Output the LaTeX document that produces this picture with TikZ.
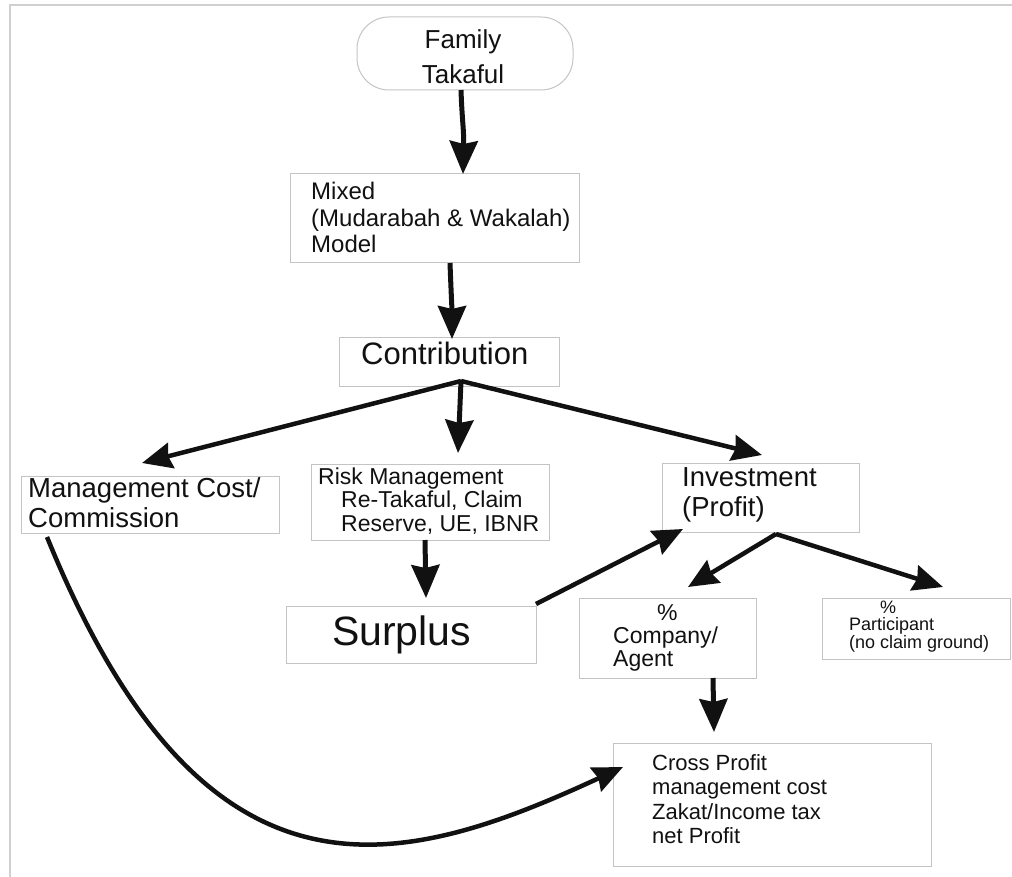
\documentclass[tikz,border=0pt]{standalone}
\usepackage{fontspec}
\setmainfont{Liberation Sans}
\usetikzlibrary{arrows.meta}

\definecolor{boxline}{HTML}{C4C4C4}
\definecolor{frameline}{HTML}{D0D0D0}
\definecolor{ink}{HTML}{111111}
\newcommand\setfs[2]{\fontsize{#1}{#2}\selectfont}

\tikzset{
  box/.style={draw=boxline, line width=1pt, rectangle, inner sep=0pt, outer sep=0pt},
  lbl/.style={inner sep=0pt, anchor=north west, align=left, text=ink},
  vflow/.style={draw=ink, line width=5pt, -{Stealth[length=33pt,width=28pt,inset=3pt]}},
  dflow/.style={draw=ink, line width=4.5pt, -{Stealth[length=30pt,width=26pt,inset=3pt]}},
}

\begin{document}
\begin{tikzpicture}[x=1pt,y=-1pt]
\useasboundingbox (0,0) rectangle (1012,877);
% page frame (top and left edges)
\draw[frameline, line width=1.2pt] (10,877) -- (10,5) -- (1012,5);

% boxes
\node[box, rounded corners=32pt, minimum width=216pt, minimum height=73pt] (fam) at (465,53.5) {};
\node[box, minimum width=289pt, minimum height=89pt]  (mixed)   at (434.5,218.5) {};
\node[box, minimum width=220pt, minimum height=49pt]  (contrib) at (449,361.5) {};
\node[box, minimum width=258pt, minimum height=57pt]  (mgmt)    at (150,504.5) {};
\node[box, minimum width=238pt, minimum height=76pt]  (risk)    at (430,502) {};
\node[box, minimum width=197pt, minimum height=69pt]  (invest)  at (760.5,497.5) {};
\node[box, minimum width=250pt, minimum height=57pt]  (surplus) at (411,634.5) {};
\node[box, minimum width=177pt, minimum height=80pt]  (company) at (667.5,638) {};
\node[box, minimum width=188pt, minimum height=61pt]  (partic)  at (916,628.5) {};
\node[box, minimum width=318pt, minimum height=123pt] (cross)   at (772,804.5) {};

% labels
\node[lbl, anchor=north, align=center, font=\setfs{26}{35}] (famtxt) at (463,29) {Family\\Takaful};
\node[lbl, font=\setfs{24}{26.5}] (mixtxt) at (311,182) {Mixed\\(Mudarabah \& Wakalah)\\Model};
\node[lbl, anchor=base west, font=\setfs{31}{36}] (contribtxt) at (361,364) {Contribution};
\node[lbl, font=\setfs{27.5}{30}] (mgmttxt) at (28,477.5) {Management Cost/\\Commission};
\node[lbl, font=\setfs{23}{23.5}] (risktxt) at (318,467.5)
  {Risk Management\\\hspace*{23pt}Re-Takaful, Claim\\\hspace*{23pt}Reserve, UE, IBNR};
\node[lbl, font=\setfs{27.5}{30}] (investtxt) at (682,467) {Investment\\(Profit)};
\node[lbl, anchor=base west, font=\setfs{41}{46}] (surplustxt) at (332,645) {Surplus};
\node[lbl, font=\setfs{23}{23}] (companytxt) at (613,604.5) {\hspace*{44pt}\%\\Company/\\Agent};
\node[lbl, font=\setfs{18}{17.5}] (partictxt) at (849,600.5) {\hspace*{31pt}\%\\Participant\\(no claim ground)};
\node[lbl, font=\setfs{22}{24.5}] (crosstxt) at (652,754) {Cross Profit\\management cost\\Zakat/Income tax\\net Profit};

% connector end points
\coordinate (fan)   at ([xshift=12pt,yshift=5pt]contrib.south);
\coordinate (split) at ([xshift=15.5pt,yshift=-2pt]invest.south);

% flows
\draw[vflow] ([xshift=-4pt]fam.south) .. controls (462,120) and (464,130) .. ([xshift=28.5pt]mixed.north);
\draw[vflow] ([xshift=15.5pt]mixed.south) .. controls (451,290) and (452,310) .. ([xshift=3pt,yshift=-2pt]contrib.north);
\draw[dflow] (fan) -- ([xshift=-8pt,yshift=13pt]mgmt.north);
\draw[vflow] (fan) -- ([xshift=28pt,yshift=11pt]risk.north);
\draw[dflow] (fan) -- ([xshift=1.5pt,yshift=8pt]invest.north);
\draw[vflow] ([xshift=-5pt]risk.south) -- ([xshift=15pt,yshift=8pt]surplus.north);
\draw[dflow] ([yshift=2pt]surplus.north east) -- ([xshift=21pt,yshift=3pt]invest.south west);
\draw[dflow] (split) -- ([xshift=20.5pt,yshift=11pt]company.north);
\draw[dflow] (split) -- ([xshift=27pt,yshift=11pt]partic.north);
\draw[vflow] ([xshift=45.5pt]company.south) -- ([xshift=-58pt,yshift=11pt]cross.north);
\draw[dflow] ([xshift=26pt,yshift=-4pt]mgmt.south west) .. controls (205,925) and (400,870) .. ([xshift=10pt,yshift=-24pt]cross.north west);
\end{tikzpicture}
\end{document}
